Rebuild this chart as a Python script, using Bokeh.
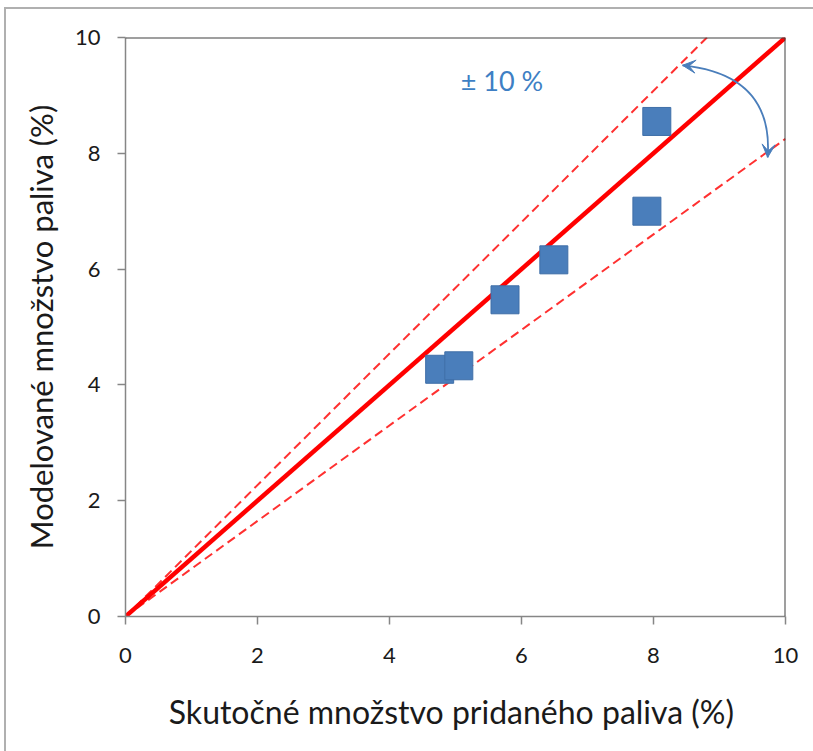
from bokeh.plotting import figure
from bokeh.models import Range1d, Span, Arrow, VeeHead, FixedTicker, Label
from bokeh.embed import file_html
from bokeh.resources import INLINE

# data
actual = [4.76, 5.05, 5.75, 6.49, 7.90, 8.05]
modeled = [4.27, 4.33, 5.47, 6.16, 7.00, 8.55]
ideal_x = [0, 10]
ideal_y = [0, 10]
upper_x = [0, 8.81]
upper_y = [0, 10]
lower_x = [0, 10]
lower_y = [0, 8.25]
arc_start = (8.44, 9.52)
arc_ctrl = (9.82, 9.36)
arc_end = (9.73, 7.93)
ticks = [0, 2, 4, 6, 8, 10]
band_label = "± 10 %"
x_title = "Skutočné množstvo pridaného paliva  (%)"
y_title = "Modelované množstvo paliva (%)"

FONT = "Lato"

p = figure(frame_width=660, frame_height=579,
           min_border_left=119, min_border_right=28,
           min_border_top=28, min_border_bottom=135,
           x_range=Range1d(0, 10), y_range=Range1d(0, 10),
           output_backend="svg", toolbar_location=None,
           background_fill_color="white", border_fill_color="white")
p.styles = {"border-left": "2px solid #b0b0b0", "border-top": "2px solid #b0b0b0",
            "margin-left": "4px", "margin-top": "7px"}
p.outline_line_color = None
p.grid.visible = False

for ax in (p.xaxis[0], p.yaxis[0]):
    ax.ticker = FixedTicker(ticks=ticks)
    ax.axis_line_color = "#868686"
    ax.axis_line_width = 1.5
    ax.major_tick_line_color = "#868686"
    ax.major_tick_line_width = 1.5
    ax.major_tick_out = 8
    ax.major_tick_in = 0
    ax.minor_tick_line_color = None
    ax.major_label_text_font = FONT
    ax.major_label_text_font_size = "22px"
    ax.major_label_text_color = "#1a1a1a"
    ax.axis_label_text_font = FONT
    ax.axis_label_text_font_style = "normal"
    ax.axis_label_text_color = "#1a1a1a"

p.xaxis.axis_label = x_title
p.yaxis.axis_label = y_title
p.xaxis.axis_label_text_font_size = "32px"
p.yaxis.axis_label_text_font_size = "31px"
p.xaxis.major_label_standoff = 23
p.yaxis.major_label_standoff = 17
p.xaxis.axis_label_standoff = 26
p.yaxis.axis_label_standoff = 12

# frame top and right
p.add_layout(Span(location=10, dimension="width", line_color="#404040", line_width=2))
p.add_layout(Span(location=10, dimension="height", line_color="#404040", line_width=2))

# lines
p.line(upper_x, upper_y, line_color="#ff3030", line_width=2, line_dash="9 5")
p.line(lower_x, lower_y, line_color="#ff3030", line_width=2, line_dash="9 5")
p.line(ideal_x, ideal_y, line_color="#ff0000", line_width=4.5)

# points
p.scatter(actual, modeled, marker="square", size=28,
          fill_color="#4a7ebb", line_color="#3f6fa8", line_width=1)

# arc with arrowheads
p.quadratic(x0=[arc_start[0]], y0=[arc_start[1]], x1=[arc_end[0]], y1=[arc_end[1]],
            cx=[arc_ctrl[0]], cy=[arc_ctrl[1]], line_color="#4a7ebb", line_width=1.8)
for tip in (arc_start, arc_end):
    p.add_layout(Arrow(x_start=arc_ctrl[0], y_start=arc_ctrl[1], x_end=tip[0], y_end=tip[1],
                       line_alpha=0,
                       end=VeeHead(size=13, fill_color="#4a7ebb", line_color="#4a7ebb")))

p.add_layout(Label(x=5.08, y=9.26, text=band_label, text_font=FONT, text_font_size="27px",
                   text_color="#3e7fc4", text_align="left", text_baseline="middle"))

open("out.html", "w").write(file_html(p, INLINE))
